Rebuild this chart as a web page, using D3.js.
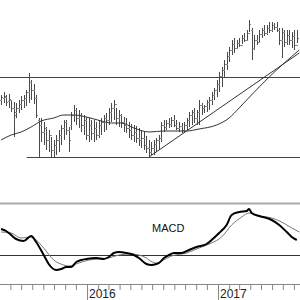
<!DOCTYPE html>
<html><head><meta charset="utf-8">
<script src="https://cdn.jsdelivr.net/npm/d3@7"></script>
<style>html,body{margin:0;padding:0;background:#fff;}svg{display:block}</style>
</head><body>
<svg id="c" width="300" height="300"></svg>
<script>
// ---- data ----
const firstBar = "2015-05-06";
const high = [105,108,105,106,100,98,97,100,104,105,110,127,120,116,105,82,82,78,73,70,63,60,65,70,75,80,80,73,88,95,92,90,87,85,83,82,80,80,78,80,82,85,87,92,97,100,92,90,86,83,82,78,76,75,74,72,70,68,64,60,58,60,62,65,78,80,80,82,83,85,80,78,77,78,82,88,90,92,90,100,97,95,100,103,108,112,120,128,133,140,148,153,160,162,160,162,165,167,170,180,172,165,165,170,172,175,175,178,178,177,178,172,172,170,170,170,168,170,170];
const low = [95,97,94,92,88,63,82,87,90,92,94,97,100,96,82,42,58,55,50,48,43,43,45,48,55,60,65,48,70,78,75,72,68,65,60,58,60,58,60,62,65,68,70,75,78,80,75,73,72,68,67,62,60,58,57,54,52,50,47,44,45,45,48,50,58,68,70,72,73,73,70,68,67,68,70,73,75,77,75,75,85,87,88,90,95,100,103,108,113,122,130,138,145,147,152,153,156,158,160,168,140,150,155,158,162,164,165,167,168,170,168,155,142,153,155,155,152,150,157];
const open = [100,102,103,99,100,92,88,92,96,100,102,108,118,110,102,80,75,68,72,60,65,50,55,60,65,72,78,70,75,85,90,82,85,75,80,65,75,67,72,65,75,78,82,80,88,92,96,82,85,78,75,72,70,65,68,62,60,62,55,52,48,52,56,60,62,75,73,77,76,80,75,72,74,70,75,80,85,88,82,88,95,92,94,98,100,105,110,116,124,130,136,144,150,156,152,157,155,162,160,167,170,152,160,158,166,170,167,172,170,175,173,170,160,168,158,165,160,164,155];
const close = [103,104,98,101,92,85,92,96,100,102,108,118,110,102,85,75,68,72,60,65,50,55,60,65,72,78,70,60,85,90,82,85,75,80,65,75,67,72,65,75,78,82,80,88,92,96,82,85,78,75,72,70,65,68,62,60,62,55,52,48,52,56,60,62,75,73,77,76,80,75,72,74,70,75,80,85,88,82,88,95,92,94,98,100,105,110,116,124,130,136,144,150,156,152,157,155,162,160,167,176,152,160,158,166,170,167,172,170,175,173,170,160,168,158,165,160,164,155,162];
// moving average read at bar positions
const maIdx = [0,4,8,12,16,21,25,29,34,40,44,48,53,59,65,74,79,86,91,95,98,103,107,113,119];
const maVal = [60,65,68,73,79,82,85,85,83,79,77,77,72,68,69,69,71,75,82,92,100,113,123,137,150];
// trendline (bar index, price)
const trendIdx = [59,119];
const trendVal = [43,147];
const resistance = 123;
const support = 43;
const supportStart = "2015-07-17";
// MACD
const macdIdx = [0,2,4,6,9,12,14,17,19,22,24,26,28,30,32,34,38,41,43,45,47,50,53,55,58,60,62,63,65,67,69,72,75,78,82,84,87,90,92,95,98,99,100,103,106,108,111,114,116,118];
const macdVal = [26,24,20,16,14,19,13,0,-9,-15,-14,-12,-12,-7,-5,-4,-3,-4,-2,2,3,2,0,-3,-9,-10,-9,-8,-3,0,2,2,5,8,11,15,22,30,40,43,44,46,42,39,37,35,30,23,18,15];
const sigIdx = [0,4,8,12,14,17,21,25,27,31,35,43,47,52,58,59,62,64,68,74,79,84,88,92,96,99,103,108,112,116,119];
const sigVal = [23,22,17,18,15,7,-5,-10,-11,-8,-5,-3,0,1,-3,-5,-8,-6,-1,2,7,12,18,30,38,42,39,37,33,27,23];
const macdLabel = "MACD";
const domainStart = "2015-05-03", domainEnd = "2017-08-18";

// ---- drawing ----
const svg = d3.select("#c");
const parse = d3.timeParse("%Y-%m-%d");
const x = d3.scaleTime().domain([parse(domainStart), parse(domainEnd)]).range([0, 300]);
const y = d3.scaleLinear().domain([35, 200]).range([165, 0]);
const ym = d3.scaleLinear().domain([-29, 52]).range([284, 203]);
const d0 = parse(firstBar);
const dateAt = i => d3.timeDay.offset(d0, Math.round(i * 7));
const bars = high.map((h, i) => ({d: dateAt(i), h, l: low[i], o: open[i], c: close[i]}));
const px = d => Math.round(x(d)) + 0.5;

// horizontal reference lines
svg.append("line").attr("x1", 0).attr("x2", 300).attr("y1", Math.round(y(resistance)) + 0.5).attr("y2", Math.round(y(resistance)) + 0.5).attr("stroke", "#444").attr("stroke-width", 1.2);
svg.append("line").attr("x1", x(parse(supportStart))).attr("x2", 300).attr("y1", Math.round(y(support)) + 0.5).attr("y2", Math.round(y(support)) + 0.5).attr("stroke", "#444").attr("stroke-width", 1.2);

// bars
const g = svg.append("g").attr("stroke", "#4a4a4a").attr("stroke-width", 1).attr("shape-rendering", "crispEdges");
bars.forEach(b => {
  const cx = px(b.d);
  g.append("line").attr("x1", cx).attr("x2", cx).attr("y1", y(b.h)).attr("y2", y(b.l));
  g.append("line").attr("x1", cx - 1.2).attr("x2", cx).attr("y1", Math.round(y(b.o)) + 0.5).attr("y2", Math.round(y(b.o)) + 0.5).attr("stroke", "#888");
  g.append("line").attr("x1", cx).attr("x2", cx + 1.2).attr("y1", Math.round(y(b.c)) + 0.5).attr("y2", Math.round(y(b.c)) + 0.5).attr("stroke", "#888");
});

// moving average
svg.append("path").datum(maIdx.map((i, k) => [dateAt(i), maVal[k]]))
  .attr("d", d3.line().x(d => x(d[0])).y(d => y(d[1])).curve(d3.curveMonotoneX))
  .attr("fill", "none").attr("stroke", "#333").attr("stroke-width", 1);
// trendline
svg.append("path").datum(trendIdx.map((i, k) => [dateAt(i), trendVal[k]]))
  .attr("d", d3.line().x(d => x(d[0])).y(d => y(d[1])))
  .attr("fill", "none").attr("stroke", "#333").attr("stroke-width", 1);

// MACD panel
svg.append("line").attr("x1", 0).attr("x2", 300).attr("y1", 203.5).attr("y2", 203.5).attr("stroke", "#aaa").attr("stroke-width", 2);
svg.append("line").attr("x1", 0).attr("x2", 300).attr("y1", Math.round(ym(0)) + 0.5).attr("y2", Math.round(ym(0)) + 0.5).attr("stroke", "#333").attr("stroke-width", 1);
svg.append("path").datum(sigIdx.map((i, k) => [dateAt(i), sigVal[k]]))
  .attr("d", d3.line().x(d => x(d[0])).y(d => ym(d[1])).curve(d3.curveMonotoneX))
  .attr("fill", "none").attr("stroke", "#777").attr("stroke-width", 1);
svg.append("path").datum(macdIdx.map((i, k) => [dateAt(i), macdVal[k]]))
  .attr("d", d3.line().x(d => x(d[0])).y(d => ym(d[1])).curve(d3.curveMonotoneX))
  .attr("fill", "none").attr("stroke", "#000").attr("stroke-width", 2);
svg.append("text").attr("x", 152).attr("y", 232).attr("font-family", "Liberation Sans, Arial, sans-serif").attr("font-size", 11).attr("fill", "#111").text(macdLabel);

// time axis
const ax = svg.append("g").attr("transform", "translate(0,284)")
  .call(d3.axisBottom(x).ticks(d3.timeMonth.every(1)).tickSize(6).tickFormat(""));
ax.select(".domain").attr("stroke", "#888").attr("d", "M0,0.5H300");
ax.selectAll(".tick line").attr("stroke", "#888")
  .attr("y2", d => d.getMonth() === 0 ? 16 : 6);
ax.selectAll(".tick").filter(d => d.getMonth() === 0).append("text")
  .attr("x", 1.5).attr("y", 14).attr("fill", "#222").attr("text-anchor", "start")
  .attr("font-family", "Liberation Sans, Arial, sans-serif").attr("font-size", 12)
  .text(d => d3.timeFormat("%Y")(d));
</script>
</body></html>
